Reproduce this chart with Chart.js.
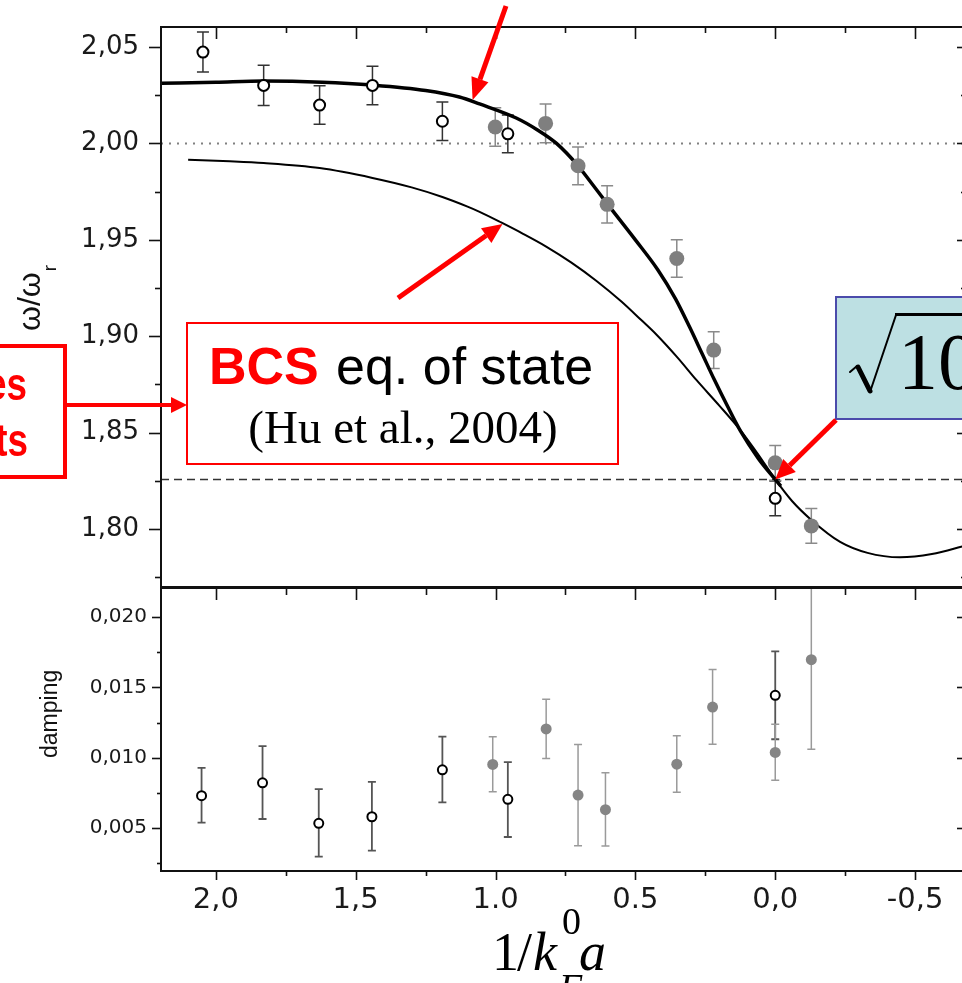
<!DOCTYPE html>
<html>
<head>
<meta charset="utf-8">
<script src="https://cdn.jsdelivr.net/npm/chart.js@4.4.1/dist/chart.umd.min.js"></script>
<style>
html, body { margin: 0; padding: 0; overflow: hidden; background: #fff; }
#wrap { position: relative; width: 1000px; height: 983px; }
canvas { position: absolute; left: 0; }
#top { top: 0; }
#bottom { top: 560px; }
</style>
</head>
<body>
<div id="wrap">
  <canvas id="bottom" width="1000" height="423"></canvas>
  <canvas id="top" width="1000" height="588"></canvas>
</div>
<script>
// Eixos
const X_MIN = -0.682, X_MAX = 2.196;
const xTickValues = [2.0, 1.5, 1.0, 0.5, 0.0, -0.5];
const xTickLabels = ['2,0', '1,5', '1.0', '0.5', '0,0', '-0,5'];
const xMinorValues = [1.75, 1.25, 0.75, 0.25, -0.25];
const yTopTickValues = [1.80, 1.85, 1.90, 1.95, 2.00, 2.05];
const yTopTickLabels = ['1,80', '1,85', '1,90', '1,95', '2,00', '2,05'];
const yTopMinorValues = [1.775, 1.825, 1.875, 1.925, 1.975, 2.025];
const yBotTickValues = [0.005, 0.010, 0.015, 0.020];
const yBotTickLabels = ['0,005', '0,010', '0,015', '0,020'];
const yBotMinorValues = [0.0025, 0.0075, 0.0125, 0.0175];

// Painel de cima: omega / omega_r
const topOpenX = [2.046, 1.829, 1.629, 1.440, 1.190, 0.956, 0.000];
const topOpenY = [2.0474, 2.0301, 2.0199, 2.0301, 2.0115, 2.0050, 1.8159];
const topOpenErr = [0.0104, 0.0104, 0.0100, 0.0100, 0.0100, 0.0098, 0.0090];

const topFilledX = [1.001, 0.821, 0.705, 0.601, 0.352, 0.220, 0.000, -0.129];
const topFilledY = [2.0085, 2.0104, 1.9884, 1.9684, 1.9403, 1.8928, 1.8343, 1.8016];
const topFilledErr = [0.0100, 0.0100, 0.0098, 0.0097, 0.0097, 0.0095, 0.0090, 0.0090];

// Curva grossa (teoria) e curva fina (BCS eq. of state)
const thickX = [2.196, 2.00, 1.829, 1.62, 1.44, 1.25, 1.129, 1.057, 0.926, 0.85, 0.782, 0.705, 0.66, 0.601, 0.50, 0.42, 0.357, 0.307, 0.26, 0.218, 0.17, 0.125, 0.06, 0.0, -0.02];
const thickY = [2.0312, 2.0318, 2.0324, 2.0318, 2.0303, 2.0275, 2.0241, 2.0205, 2.0132, 2.0070, 2.0000, 1.9884, 1.9800, 1.9688, 1.9500, 1.9345, 1.9195, 1.9050, 1.8905, 1.8775, 1.8635, 1.8510, 1.8365, 1.8257, 1.8222];

const thinX = [2.099, 1.95, 1.829, 1.629, 1.44, 1.30, 1.19, 1.10, 1.057, 0.98, 0.90, 0.819, 0.73, 0.64, 0.55, 0.48, 0.426, 0.35, 0.282, 0.20, 0.125, 0.06, 0.0, -0.06, -0.129, -0.232, -0.33, -0.446, -0.56, -0.682];
const thinY = [1.9915, 1.9907, 1.9898, 1.9872, 1.9821, 1.9772, 1.9722, 1.9672, 1.9645, 1.9590, 1.9530, 1.9465, 1.9383, 1.9288, 1.9180, 1.9085, 1.9010, 1.8890, 1.8773, 1.8640, 1.8513, 1.8385, 1.8257, 1.8145, 1.8047, 1.7933, 1.7876, 1.7853, 1.7870, 1.7915];

const dottedLevel = 2.00;
const dashedLevel = 1.8257;

// Painel de baixo: damping
const botOpenX = [2.051, 1.833, 1.632, 1.442, 1.190, 0.956, 0.000];
const botOpenY = [0.00730, 0.00821, 0.00533, 0.00580, 0.00914, 0.00704, 0.01443];
const botOpenLo = [0.00538, 0.00564, 0.00296, 0.00339, 0.00682, 0.00436, 0.01131];
const botOpenHi = [0.00927, 0.01082, 0.00777, 0.00828, 0.01150, 0.00968, 0.01755];

const botFilledX = [1.010, 0.819, 0.705, 0.607, 0.352, 0.224, 0.000, -0.129];
const botFilledY = [0.00952, 0.01204, 0.00734, 0.00630, 0.00954, 0.01360, 0.01037, 0.01697];
const botFilledLo = [0.00757, 0.00994, 0.00374, 0.00372, 0.00755, 0.01096, 0.00840, 0.01060];
const botFilledHi = [0.01148, 0.01415, 0.01094, 0.00892, 0.01155, 0.01626, 0.01238, 0.02350];

const pts = (xs, ys) => xs.map((x, i) => ({ x: x, y: ys[i] }));

// Barras de erro
const errorBars = {
    id: 'errorBars',
    beforeDatasetsDraw(chart) {
        const { ctx, chartArea: a, scales: { x, y } } = chart;
        ctx.save();
        ctx.beginPath();
        ctx.rect(a.left, a.top, a.right - a.left, a.bottom - a.top);
        ctx.clip();
        chart.data.datasets.forEach(ds => {
            if (!ds.errLo) return;
            ds.data.forEach((p, i) => {
                const px = x.getPixelForValue(p.x);
                const yl = y.getPixelForValue(ds.errLo[i]);
                const yh = y.getPixelForValue(ds.errHi[i]);
                const c = ds.errCap;
                ctx.strokeStyle = ds.errColor;
                ctx.lineWidth = ds.errWidth;
                ctx.beginPath();
                ctx.moveTo(px, yl); ctx.lineTo(px, yh);
                ctx.moveTo(px - c, yl); ctx.lineTo(px + c, yl);
                ctx.moveTo(px - c, yh); ctx.lineTo(px + c, yh);
                ctx.stroke();
            });
        });
        ctx.restore();
    }
};

function vTicks(ctx, scale, values, yEdge, len) {
    values.forEach(v => {
        const px = Math.round(scale.getPixelForValue(v)) + 0.5;
        ctx.beginPath(); ctx.moveTo(px, yEdge); ctx.lineTo(px, yEdge + len); ctx.stroke();
    });
}
function hTicks(ctx, scale, values, xEdge, len) {
    values.forEach(v => {
        const py = Math.round(scale.getPixelForValue(v)) + 0.5;
        ctx.beginPath(); ctx.moveTo(xEdge, py); ctx.lineTo(xEdge + len, py); ctx.stroke();
    });
}

function arrow(ctx, x1, y1, x2, y2, w, hl, hw) {
    const a = Math.atan2(y2 - y1, x2 - x1);
    const bx = x2 - hl * Math.cos(a), by = y2 - hl * Math.sin(a);
    ctx.lineWidth = w;
    ctx.beginPath(); ctx.moveTo(x1, y1); ctx.lineTo(bx, by); ctx.stroke();
    ctx.beginPath();
    ctx.moveTo(x2, y2);
    ctx.lineTo(bx + hw / 2 * Math.sin(a), by - hw / 2 * Math.cos(a));
    ctx.lineTo(bx - hw / 2 * Math.sin(a), by + hw / 2 * Math.cos(a));
    ctx.closePath(); ctx.fill();
}

// Moldura, marcas e anotações do painel de cima
const topDecor = {
    id: 'topDecor',
    afterDraw(chart) {
        const { ctx, chartArea: a, scales: { x, y } } = chart;
        ctx.save();
        ctx.strokeStyle = '#111';
        ctx.lineWidth = 2;
        ctx.strokeRect(a.left, a.top, a.right - a.left, a.bottom - a.top);
        ctx.lineWidth = 1.6;
        vTicks(ctx, x, xTickValues, a.top, 12);
        vTicks(ctx, x, xMinorValues, a.top, 6);
        hTicks(ctx, y, yTopTickValues, a.left, -12);
        hTicks(ctx, y, yTopMinorValues, a.left, -6);
        hTicks(ctx, y, yTopTickValues, a.right, -9);
        hTicks(ctx, y, yTopMinorValues, a.right, -5);

        // Título do eixo y
        ctx.fillStyle = '#111';
        ctx.save();
        ctx.translate(40, 331);
        ctx.rotate(-Math.PI / 2);
        ctx.font = '32px "Liberation Sans"';
        ctx.textBaseline = 'alphabetic';
        ctx.fillText('ω/ω', 0, 0);
        const w = ctx.measureText('ω/ω').width;
        ctx.font = '19px "Liberation Sans"';
        ctx.fillText('r', w + 1, 16);
        ctx.restore();

        // Caixa da esquerda (cortada)
        ctx.strokeStyle = '#f00';
        ctx.fillStyle = '#f00';
        ctx.lineWidth = 4;
        ctx.strokeRect(-20, 346, 85, 131);
        ctx.save();
        ctx.scale(0.8, 1);
        ctx.font = 'bold 46px "Liberation Sans"';
        ctx.textAlign = 'right';
        ctx.fillText('es', 27 / 0.8, 400);
        ctx.fillText('ts', 28 / 0.8, 456);
        ctx.restore();
        arrow(ctx, 67, 405, 187, 405, 4, 16, 16);

        // Caixa BCS
        ctx.fillStyle = '#fff';
        ctx.fillRect(187, 323, 431, 141);
        ctx.lineWidth = 2;
        ctx.strokeRect(187, 323, 431, 141);
        ctx.font = 'bold 52px "Liberation Sans"';
        ctx.fillStyle = '#f00';
        ctx.fillText('BCS', 209, 384);
        ctx.font = '52px "Liberation Sans"';
        ctx.fillStyle = '#000';
        ctx.fillText('eq. of state', 336, 384);
        ctx.font = '47px "Liberation Serif"';
        ctx.textAlign = 'center';
        ctx.fillText('(Hu et al., 2004)', 403, 443);
        ctx.textAlign = 'left';

        // Caixa da raiz
        ctx.fillStyle = '#bde0e3';
        ctx.fillRect(836, 297, 160, 122);
        ctx.strokeStyle = '#4b4bab';
        ctx.lineWidth = 2;
        ctx.strokeRect(836, 297, 160, 122);
        ctx.strokeStyle = '#000';
        ctx.lineCap = 'round';
        ctx.lineWidth = 2;
        ctx.beginPath(); ctx.moveTo(850, 372); ctx.lineTo(857, 366); ctx.stroke();
        ctx.lineWidth = 5;
        ctx.beginPath(); ctx.moveTo(858, 367); ctx.lineTo(870, 391); ctx.stroke();
        ctx.lineWidth = 2;
        ctx.beginPath(); ctx.moveTo(870, 392); ctx.lineTo(896, 315); ctx.stroke();
        ctx.lineCap = 'butt';
        ctx.lineWidth = 3;
        ctx.beginPath(); ctx.moveTo(895, 314.5); ctx.lineTo(980, 314.5); ctx.stroke();
        ctx.fillStyle = '#000';
        ctx.font = '80px "Liberation Serif"';
        ctx.fillText('10', 898, 389);

        // Setas vermelhas
        ctx.strokeStyle = '#f00';
        ctx.fillStyle = '#f00';
        arrow(ctx, 836, 420, x.getPixelForValue(0), y.getPixelForValue(dashedLevel), 5, 20, 18);
        arrow(ctx, 506, 6, x.getPixelForValue(1.082), y.getPixelForValue(2.0225), 5, 22, 18);
        arrow(ctx, 398, 298, x.getPixelForValue(0.975), y.getPixelForValue(1.9582), 5, 20, 18);
        ctx.restore();
    }
};

// Moldura e marcas do painel de baixo
const botDecor = {
    id: 'botDecor',
    afterDraw(chart) {
        const { ctx, chartArea: a, scales: { x, y } } = chart;
        ctx.save();
        ctx.strokeStyle = '#111';
        ctx.lineWidth = 2;
        ctx.strokeRect(a.left, a.top, a.right - a.left, a.bottom - a.top);
        ctx.lineWidth = 1.6;
        vTicks(ctx, x, xTickValues, a.top, 12);
        vTicks(ctx, x, xMinorValues, a.top, 7);
        vTicks(ctx, x, xTickValues, a.bottom, 9);
        vTicks(ctx, x, xMinorValues, a.bottom, 5);
        hTicks(ctx, y, yBotTickValues, a.left, -9);
        hTicks(ctx, y, yBotMinorValues, a.left, -4);
        hTicks(ctx, y, yBotTickValues, a.right, -9);
        hTicks(ctx, y, yBotMinorValues, a.right, -4);

        ctx.fillStyle = '#111';
        ctx.save();
        ctx.translate(57, 758 - 560);
        ctx.rotate(-Math.PI / 2);
        ctx.font = '23px "Liberation Sans"';
        ctx.fillText('damping', 0, 0);
        ctx.restore();

        // Título do eixo x: 1/k_F^0 a
        const by = 970 - 560;
        ctx.fillStyle = '#000';
        ctx.font = '54px "Liberation Serif"';
        ctx.fillText('1', 492, by);
        ctx.fillText('/', 517, by);
        ctx.font = 'italic 54px "Liberation Serif"';
        ctx.fillText('k', 533, by);
        ctx.font = '38px "Liberation Serif"';
        ctx.fillText('0', 562, 934 - 560);
        ctx.font = 'italic 38px "Liberation Serif"';
        ctx.fillText('F', 559, 1000 - 560);
        ctx.font = 'italic 54px "Liberation Serif"';
        ctx.fillText('a', 579, by);
        ctx.restore();
    }
};

const xScaleBase = {
    type: 'linear',
    reverse: true,
    min: X_MIN,
    max: X_MAX,
    grid: { display: false, drawTicks: false },
    border: { display: false }
};

const noPad = s => { s.paddingTop = 0; s.paddingBottom = 0; s.paddingLeft = 0; s.paddingRight = 0; };

// Gráfico de cima
new Chart(document.getElementById('top'), {
    type: 'scatter',
    data: {
        datasets: [
            {
                type: 'scatter', label: 'open', data: pts(topOpenX, topOpenY), order: 0,
                pointRadius: 5.5, pointBorderWidth: 2, pointBackgroundColor: '#fff', pointBorderColor: '#000',
                errLo: topOpenY.map((v, i) => v - topOpenErr[i]), errHi: topOpenY.map((v, i) => v + topOpenErr[i]),
                errColor: '#333', errWidth: 1.5, errCap: 6
            },
            {
                type: 'scatter', label: 'filled', data: pts(topFilledX, topFilledY), order: 0,
                pointRadius: 7.5, pointBorderWidth: 0, pointBackgroundColor: '#7f7f7f', pointBorderColor: '#7f7f7f',
                errLo: topFilledY.map((v, i) => v - topFilledErr[i]), errHi: topFilledY.map((v, i) => v + topFilledErr[i]),
                errColor: '#8a8a8a', errWidth: 1.5, errCap: 6
            },
            {
                type: 'line', label: 'thick', data: pts(thickX, thickY), order: 1,
                borderColor: '#000', borderWidth: 3.5, pointRadius: 0, cubicInterpolationMode: 'monotone', fill: false
            },
            {
                type: 'line', label: 'thin', data: pts(thinX, thinY), order: 1,
                borderColor: '#000', borderWidth: 2, pointRadius: 0, cubicInterpolationMode: 'monotone', fill: false
            },
            {
                type: 'line', label: 'dotted', data: pts([X_MAX, X_MIN], [dottedLevel, dottedLevel]), order: 2,
                borderColor: '#808080', borderWidth: 2, borderDash: [2, 6], pointRadius: 0
            },
            {
                type: 'line', label: 'dashed', data: pts([X_MAX, X_MIN], [dashedLevel, dashedLevel]), order: 2,
                borderColor: '#333', borderWidth: 1.5, borderDash: [8, 5], pointRadius: 0
            }
        ]
    },
    options: {
        responsive: false,
        animation: false,
        layout: { autoPadding: false, padding: { left: 0, right: 34, top: 27, bottom: 1 } },
        plugins: { legend: { display: false }, tooltip: { enabled: false } },
        scales: {
            x: Object.assign({}, xScaleBase, {
                display: true,
                ticks: { display: false },
                afterFit: s => { s.height = 0; noPad(s); }
            }),
            y: {
                type: 'linear',
                min: 1.7699,
                max: 2.0604,
                grid: { display: false, drawTicks: false },
                border: { display: false },
                afterFit: s => { s.width = 161; noPad(s); },
                afterBuildTicks: s => { s.ticks = yTopTickValues.map(v => ({ value: v })); },
                ticks: {
                    padding: 22,
                    color: '#1a1a1a',
                    font: { family: 'DejaVu Sans', size: 26 },
                    callback: v => yTopTickLabels[yTopTickValues.findIndex(t => Math.abs(t - v) < 1e-6)]
                }
            }
        }
    },
    plugins: [errorBars, topDecor]
});

// Gráfico de baixo
new Chart(document.getElementById('bottom'), {
    type: 'scatter',
    data: {
        datasets: [
            {
                label: 'open', data: pts(botOpenX, botOpenY), order: 0,
                pointRadius: 4.5, pointBorderWidth: 2, pointBackgroundColor: '#fff', pointBorderColor: '#000',
                errLo: botOpenLo, errHi: botOpenHi, errColor: '#555', errWidth: 1.8, errCap: 4
            },
            {
                label: 'filled', data: pts(botFilledX, botFilledY), order: 1,
                pointRadius: 5.5, pointBorderWidth: 0, pointBackgroundColor: '#858585', pointBorderColor: '#858585',
                errLo: botFilledLo, errHi: botFilledHi, errColor: '#9a9a9a', errWidth: 1.5, errCap: 4
            }
        ]
    },
    options: {
        responsive: false,
        animation: false,
        layout: { autoPadding: false, padding: { left: 0, right: 34, top: 28, bottom: 0 } },
        plugins: { legend: { display: false }, tooltip: { enabled: false } },
        scales: {
            x: Object.assign({}, xScaleBase, {
                afterFit: s => { s.height = 112; noPad(s); },
                afterBuildTicks: s => { s.ticks = xTickValues.map(v => ({ value: v })); },
                ticks: {
                    padding: 12,
                    maxRotation: 0,
                    color: '#1a1a1a',
                    font: { family: 'DejaVu Sans', size: 29 },
                    callback: v => xTickLabels[xTickValues.findIndex(t => Math.abs(t - v) < 1e-6)]
                }
            }),
            y: {
                type: 'linear',
                min: 0.001943,
                max: 0.022062,
                grid: { display: false, drawTicks: false },
                border: { display: false },
                afterFit: s => { s.width = 161; noPad(s); },
                afterBuildTicks: s => { s.ticks = yBotTickValues.map(v => ({ value: v })); },
                ticks: {
                    padding: 14,
                    color: '#1a1a1a',
                    font: { family: 'DejaVu Sans', size: 20 },
                    callback: v => yBotTickLabels[yBotTickValues.findIndex(t => Math.abs(t - v) < 1e-6)]
                }
            }
        }
    },
    plugins: [errorBars, botDecor]
});
</script>
</body>
</html>
